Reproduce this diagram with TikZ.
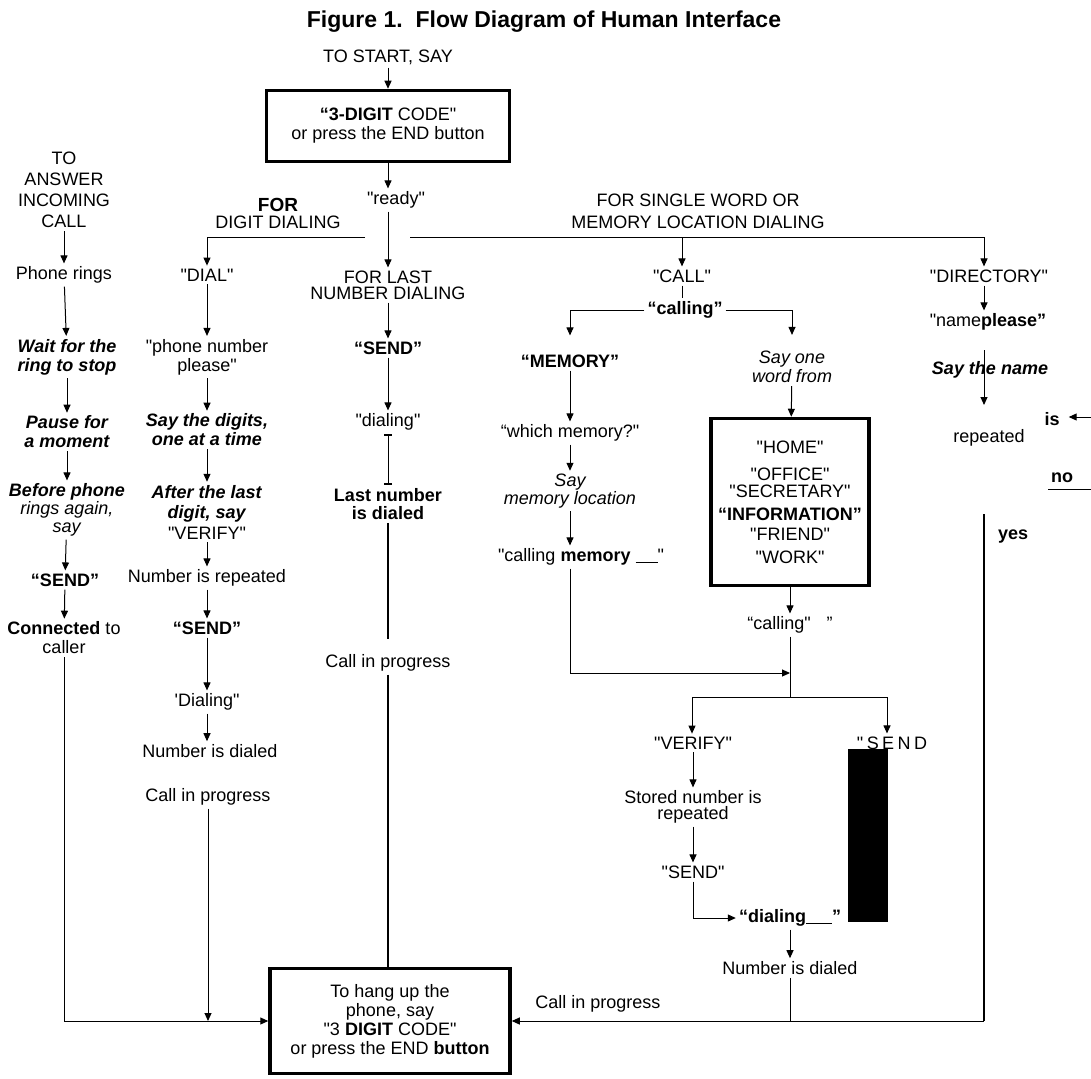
\documentclass[tikz,border=0pt]{standalone}
\usepackage{fontspec}
\setmainfont{Liberation Sans}[Ligatures=TeXOff]
\usetikzlibrary{arrows.meta}

\begin{document}
\begin{tikzpicture}[x=1pt,y=-1pt,
    every node/.style={font=\fontsize{18}{19}\selectfont, align=center, inner sep=3pt},
    tight/.style={font=\fontsize{18}{16}\selectfont},
    wide/.style={font=\fontsize{18}{21}\selectfont},
    bi/.style={font=\fontsize{18}{19}\selectfont\bfseries\itshape},
    bd/.style={font=\fontsize{18}{19}\selectfont\bfseries},
    arr/.style={-{Triangle[length=8pt,width=7pt]}, line width=1pt},
    ln/.style={line width=1pt},
    heavy/.style={line width=2pt},
    bigbox/.style={draw, line width=3.5pt}]
    \useasboundingbox (0,0) rectangle (1091,1078);

    \node (title) at (544,22) {\fontsize{23}{24}\selectfont\bfseries Figure 1.\ \ Flow Diagram of Human Interface};
    \node (start) at (388,57) {TO START, SAY};
    \node[bigbox, minimum width=243pt, minimum height=71pt] (code) at (388,126) {\textbf{“3-DIGIT} CODE"\\or press the END button};
    \node (ready) at (396,200) {"ready"};

    \node[wide] (answer) at (64,190) {TO\\ANSWER\\INCOMING\\CALL};
    \node (phone) at (64,275) {Phone rings};
    \node[bi] (wait) at (67,357) {Wait for the\\ring to stop};
    \node[bi] (pause) at (67,432) {Pause for\\a moment};
    \node[font=\fontsize{18}{18}\selectfont] (before) at (67,510) {\textbf{\textit{Before phone}}\\\textit{rings again,}\\\textit{say}};
    \node[bd] (send1) at (65,580) {“SEND”};
    \node (conn) at (64,638) {\textbf{Connected} to\\caller};

    \node[font=\fontsize{18}{17}\selectfont] (digitfor) at (278,213) {\textbf{\fontsize{19}{17}\selectfont FOR}\\DIGIT DIALING};
    \node (dial) at (207,275) {"DIAL"};
    \node (pnum) at (207,357) {"phone number\\please"};
    \node[bi] (digits) at (207,430) {Say the digits,\\one at a time};
    \node[font=\fontsize{18}{20.5}\selectfont] (after) at (207,512) {\textbf{\textit{After the last}}\\\textbf{\textit{digit, say}}\\"VERIFY"};
    \node (repeat) at (207,578) {Number is repeated};
    \node[bd] (send2) at (207,628) {“SEND”};
    \node (dialing2) at (207,702) {'Dialing"};
    \node (ndialed2) at (210,751) {Number is dialed};
    \node (cip2) at (208,797) {Call in progress};

    \node[tight] (lastfor) at (388,285) {FOR LAST\\NUMBER DIALING};
    \node[bd] (send3) at (388,348) {“SEND”};
    \node (dialing3) at (388,422) {"dialing"};
    \node[bd, font=\fontsize{18}{18}\selectfont\bfseries] (lastnum) at (388,504) {Last number\\is dialed};
    \node (cip3) at (388,663) {Call in progress};

    \node[font=\fontsize{18}{22}\selectfont] (sword) at (698,211) {FOR SINGLE WORD OR\\MEMORY LOCATION DIALING};
    \node (call) at (682,276) {"CALL"};
    \node[bd] (calling1) at (685,310) {“calling”};
    \node[bd] (memory) at (570,361) {“MEMORY”};
    \node[font=\fontsize{18}{19}\selectfont\itshape] (sayone) at (792,367) {Say one\\word from};
    \node (which) at (570,433) {“which memory?"};
    \node[font=\fontsize{18}{16}\selectfont\itshape] (saymem) at (570,491) {Say\\memory location};
    \node (callmem) at (581,557) {"calling \textbf{memory} \rule[-1pt]{22pt}{1pt}"};
    \node[bigbox, minimum width=158pt, minimum height=167pt] (words) at (790,502) {"HOME"\\[8pt]"OFFICE"\\[-2pt]"SECRETARY"\\[4pt]\textbf{“INFORMATION”}\\[1pt]"FRIEND"\\[4pt]"WORK"};
    \node (calling2) at (790,625) {“calling"\hspace{16pt}”};
    \node (verify) at (693,743) {"VERIFY"};
    \node (sendsp) at (892,743) {\addfontfeature{LetterSpace=19}"SEND};
    \node[tight] (stored) at (693,807) {Stored number is\\repeated};
    \node (send4) at (693,872) {"SEND"};
    \node[bd] (dialing4) at (790,918) {“dialing\rule[-1pt]{26pt}{1pt}”};
    \node (ndialed4) at (790,968) {Number is dialed};
    \node (cip4) at (598,1004) {Call in progress};

    \node (dir) at (989,276) {"DIRECTORY"};
    \node (namepl) at (988,322) {"name\textbf{please”}};
    \node[bi] (sayname) at (990,370) {Say the name};
    \node (repeated) at (989,438) {repeated};
    \node[bd] (is) at (1052,419) {is};
    \node[bd] (no) at (1062,478) {no};
    \node[bd] (yes) at (1013,537) {yes};

    \node[bigbox, minimum width=240pt, minimum height=105pt] (hang) at (390,1021) {To hang up the\\phone, say\\"3 \textbf{DIGIT} CODE"\\or press the END \textbf{button}};

    \coordinate (brA) at (365,237);
    \coordinate (brB) at (410,237);
    \coordinate (brD) at (984,237);
    \coordinate (jn) at (790,673);
    \coordinate (jd) at (790,697);
    \coordinate (brV) at (692,697);
    \coordinate (brS) at (887,697);
    \coordinate (rtop) at (984,514);
    \coordinate (rbot) at (984,1021);
    \coordinate (snA) at (984,350);
    \coordinate (snB) at (984,405);
    \coordinate (isR) at (1091,417);
    \coordinate (noR) at (1091,489);

    \draw[arr] (start) -- (code);
    \draw[arr] (code.south) -- (code.south |- ready.north);
    \draw[arr] (code.south |- ready.south) -- (lastfor.north);
    \draw[arr] (brA) -| (dial.north);
    \draw[ln] (brB) -- (brD);
    \draw[arr] (brB -| call.north) -- (call.north);
    \draw[arr] (brD) -- (brD |- dir.north);

    \draw[arr] (answer) -- (phone);
    \draw[arr] (phone) -- (wait);
    \draw[arr] (wait) -- (pause);
    \draw[arr] (pause) -- (before);
    \draw[arr] (before) -- (send1);
    \draw[arr] (send1) -- (conn);
    \draw[arr] (conn.south) |- (hang.west);

    \draw[arr] (dial) -- (pnum);
    \draw[arr] (pnum) -- (digits);
    \draw[arr] (digits) -- (after);
    \draw[arr] (after) -- (repeat);
    \draw[arr] (repeat) -- (send2);
    \draw[arr] (send2) -- (dialing2);
    \draw[arr] (dialing2) -- (dialing2.south |- ndialed2.north);
    \draw[arr] (cip2.south) -- (cip2.south |- hang.west);

    \draw[arr] (lastfor) -- (send3);
    \draw[arr] (send3) -- (dialing3);
    \draw[{Bar[width=8pt,line width=2.5pt]}-{Bar[width=8pt,line width=2.5pt]}, ln] (dialing3) -- (lastnum);
    \draw[heavy, shorten >=12pt] (lastnum) -- (cip3);
    \draw[line width=1.4pt] (cip3.south) -- (cip3.south |- hang.north);

    \draw[ln] (call.south) -- (call.south |- calling1.north);
    \draw[arr, shorten >=16pt] (calling1.west) -| (memory.north);
    \draw[arr, shorten >=13pt] (calling1.east) -| (sayone.north);
    \draw[arr] (memory) -- (which);
    \draw[arr] (which.south) -- (which.south |- saymem.north);
    \draw[arr] (saymem.south) -- (saymem.south |- callmem.north);
    \draw[arr] (sayone) -- (words);
    \draw[arr] (words) -- (calling2);
    \draw[arr] (callmem.south -| memory.south) |- (jn);
    \draw[ln] (calling2) -- (jd);
    \draw[ln] (brV) -- (brS);
    \draw[arr] (brV) -- (brV |- verify.north);
    \draw[arr] (brS) -- (brS |- sendsp.north);
    \draw[arr] (verify) -- (stored);
    \draw[arr] (stored) -- (send4);
    \draw[arr] (send4.south) |- (dialing4.west);
    \draw[arr] (dialing4) -- (ndialed4);
    \draw[ln] (ndialed4.south) -- (ndialed4.south |- rbot);
    \draw[heavy] (rtop) -- (rbot);
    \draw[arr] (rbot) -- (rbot -| hang.east);

    \draw[arr] (dir.south -| brD) -- (brD |- namepl.north);
    \draw[arr] (snA) -- (snB);
    \draw[arr, shorten >=6pt] (isR) -- (isR -| is.east);
    \draw[ln] (noR) -- (noR -| no.west);

    \fill (848,749) rectangle (888,922);
\end{tikzpicture}
\end{document}
